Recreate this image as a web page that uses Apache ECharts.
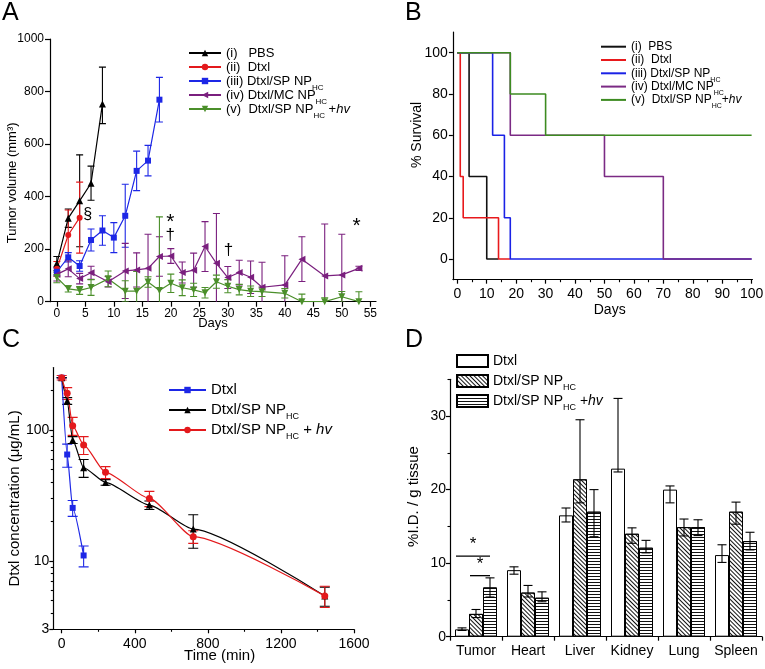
<!DOCTYPE html>
<html><head><meta charset="utf-8">
<script src="https://cdn.jsdelivr.net/npm/echarts@6/dist/echarts.min.js"></script>
<style>html,body{margin:0;padding:0;background:#fff}#c{width:765px;height:669px}</style>
</head><body><div id="c"></div>
<script>
// ---------- Panel A: tumor volume ----------
const daysPBS = [0, 2, 4, 6, 8];
const volPBS = [145, 318, 384, 451, 753];
const errPBS = [27, 35, 175, 65, [75, 140]];
const daysDtxl = [0, 2, 4];
const volDtxl = [125, 254, 320];
const errDtxl = [28, 95, 135];
const daysSP = [0, 2, 4, 6, 8, 10, 12, 14, 16, 18];
const volSP = [114, 169, 136, 235, 271, 244, 327, 498, 537, 769];
const errSP = [15, 18, 20, 42, 56, 57, 120, 75, 58, 85];
const daysLong = [0, 2, 4, 6, 9, 12, 14, 16, 18, 20, 22, 24, 26, 28, 30, 32, 34, 36, 40, 43, 47, 50, 53];
const volMC = [104, 125, 88, 110, 76, 117, 121, 127, 172, 174, 111, 120, 210, 146, 92, 111, 93, 55, 64, 162, 98, 102, 127];
const errMC = [25, 30, 20, 25, 20, 105, 65, 130, 75, 28, 40, 65, 95, 190, 42, 47, 62, 95, 111, 85, 198, 155, 8];
const volHv = [92, 49, 43, 54, 87, 40, 40, 75, 43, 70, 53, 45, 34, 76, 59, 46, 40, 38, 32, 0, 0, 19, 0];
const errHv = [20, 12, 15, 30, 30, 40, 75, 20, 280, 35, 30, 25, 20, 25, 25, 20, 20, 18, 18, 29, 15, 20, 38];
const annotA = [[5.4, 330], [19.9, 318], [19.9, 254], [30.1, 194], [52.6, 301]];
const annotTextA = ['§', '*', '†', '†', '*'];
const ticksA = [0, 5, 10, 15, 20, 25, 30, 35, 40, 45, 50, 55];

// ---------- Panel B: survival ----------
const survDaysPBS = [0, 4, 10, 14];
const survPBS = [100, 40, 0, 0];
const survDaysDtxl = [0, 1, 2, 14, 18];
const survDtxl = [100, 40, 20, 0, 0];
const survDaysSP = [0, 12, 16, 18, 100];
const survSP = [100, 60, 20, 0, 0];
const survDaysMC = [0, 18, 50, 70, 100];
const survMC = [100, 60, 40, 0, 0];
const survDaysHv = [0, 18, 30, 100];
const survHv = [100, 80, 60, 60];
const ticksBx = [0, 10, 20, 30, 40, 50, 60, 70, 80, 90, 100];
const minorBx = [5, 15, 25, 35, 45, 55, 65, 75, 85, 95];
const ticksBy = [0, 20, 40, 60, 80, 100];

// ---------- Panel C: pharmacokinetics ----------
const timeDtxl = [0, 30, 60, 120];
const concDtxl = [251, 65, 25.4, 11];
const errConcDtxl = [0, 13, 3.5, 2];
const timeC = [0, 30, 60, 120, 240, 480, 720, 1440];
const concSP = [251, 167, 84, 51.5, 39.8, 26.7, 17.5, 5.4];
const errConcSP = [0, 10, 5, 8, 2, 2, 5, 0.9];
const concHv = [251, 191, 108, 77, 47.5, 30, 15.3, 5.4];
const errConcHv = [10, 20, 17, 12, 5, 4, 1.7, 1];
const ticksCx = [0, 400, 800, 1200, 1600];
const minorCx = [200, 600, 1000, 1400];
const minorCy = [4, 5, 6, 7, 8, 9, 20, 30, 40, 50, 60, 70, 80, 90, 200];

// ---------- Panel D: biodistribution ----------
const organs = ['Tumor', 'Heart', 'Liver', 'Kidney', 'Lung', 'Spleen'];
const bioDtxl = [1.0, 9.05, 16.5, 22.85, 20.0, 11.1];
const bioDtxlLow = [0.85, 8.5, 15.6, 22.4, 18.2, 10.1];
const bioDtxlHigh = [1.2, 9.5, 17.5, 32.4, 20.5, 12.5];
const bioSP = [3.1, 6.0, 21.4, 14.0, 14.9, 17.0];
const bioSPLow = [2.6, 5.4, 18.2, 12.7, 13.7, 15.3];
const bioSPHigh = [3.7, 6.97, 29.5, 14.8, 16.0, 18.3];
const bioHv = [6.7, 5.3, 17.0, 12.1, 14.9, 13.0];
const bioHvLow = [5.4, 4.75, 13.6, 11.4, 13.75, 11.8];
const bioHvHigh = [8.0, 6.1, 20.0, 13.1, 15.9, 14.2];
const sigD = [[0, 10.95, 0, 2], [0, 8.3, 1, 2]];
const sigTextD = ['*', '*'];
const ticksDy = [0, 10, 20, 30];
const minorDy = [5, 15, 25, 35];

// ---------- styles ----------
const FONT = '"Liberation Sans", Arial, Helvetica, sans-serif';
const C = { black: '#000000', red: '#e3191c', blue: '#1d27e6', purple: '#7a1f7e', green: '#4b8f2a' };
const BAR_W = 14;

const legendLabels = {
  A1: '(i)   PBS', A2: '(ii)  Dtxl', A3: '(iii) Dtxl/SP NP{sub|HC}', A4: '(iv) Dtxl/MC NP{sub|HC}', A5: '(v)  Dtxl/SP NP{sub|HC} +{it|hv}',
  B1: '(i)  PBS', B2: '(ii)  Dtxl', B3: '(iii) Dtxl/SP NP{sub|HC}', B4: '(iv) Dtxl/MC NP{sub|HC}', B5: '(v)  Dtxl/SP NP{sub|HC}+{it|hv}',
  C1: 'Dtxl', C2: 'Dtxl/SP NP{sub|HC}', C3: 'Dtxl/SP NP{sub|HC} + {it|hv}',
  D1: 'Dtxl', D2: 'Dtxl/SP NP{sub|HC}', D3: 'Dtxl/SP NP{sub|HC} +{it|hv}'
};

function zip(xs, ys) { return xs.map((x, i) => [x, ys[i]]); }
function fmtNum(v) { return String(Math.round(v * 1000) / 1000); }

function mainAxis(o) {
  const a = {
    type: o.type || 'value', gridIndex: o.grid, position: o.position,
    min: o.min, max: o.max,
    splitLine: { show: false },
    axisLine: { show: true, onZero: false, lineStyle: { color: '#000', width: 1.2 } },
    axisTick: { show: true, length: o.tickLen || 4, lineStyle: { color: '#000', width: 1.2 } },
    axisLabel: { color: '#000', fontFamily: FONT, fontSize: o.labelSize, margin: o.labelMargin },
    name: o.name, nameLocation: 'middle', nameGap: o.nameGap, nameRotate: o.nameRotate || 0,
    nameMoveOverlap: false,
    nameTextStyle: { color: '#000', fontFamily: FONT, fontSize: o.nameSize, padding: o.namePadding || 0 }
  };
  if (a.type !== 'category') a.axisLabel.formatter = fmtNum;
  if (o.ticks) { a.axisTick.customValues = o.ticks; a.axisLabel.customValues = o.ticks; }
  if (o.extra) Object.assign(a.axisLabel, o.extra);
  return a;
}
function minorAxis(grid, position, min, max, vals) {
  return {
    type: 'value', gridIndex: grid, position: position, min: min, max: max,
    splitLine: { show: false }, axisLine: { show: false, onZero: false },
    axisLabel: { show: false },
    axisTick: { show: true, length: 2.5, customValues: vals, lineStyle: { color: '#000', width: 1.1 } }
  };
}

function errBars(xs, ys, errs, color, xi, yi, cap) {
  const data = xs.map((x, i) => {
    const e = Array.isArray(errs[i]) ? errs[i] : [errs[i], errs[i]];
    return [x, ys[i], ys[i] - e[0], ys[i] + e[1]];
  });
  return {
    type: 'custom', xAxisIndex: xi, yAxisIndex: yi, data: data, clip: true, z: 2, silent: true,
    renderItem: function (params, api) {
      const x = api.value(0);
      const a = api.coord([x, api.value(3)]);
      const b = api.coord([x, api.value(2)]);
      const st = { stroke: color, lineWidth: 1.1 };
      return { type: 'group', children: [
        { type: 'line', shape: { x1: a[0], y1: a[1], x2: b[0], y2: b[1] }, style: st },
        { type: 'line', shape: { x1: a[0] - cap, y1: a[1], x2: a[0] + cap, y2: a[1] }, style: st },
        { type: 'line', shape: { x1: b[0] - cap, y1: b[1], x2: b[0] + cap, y2: b[1] }, style: st }
      ] };
    }
  };
}
function barErr(vals, lows, highs, k) {
  const data = vals.map((v, i) => [i, v, lows[i], highs[i]]);
  return {
    type: 'custom', xAxisIndex: 5, yAxisIndex: 4, data: data, z: 5, silent: true,
    renderItem: function (params, api) {
      const a = api.coord([api.value(0), api.value(3)]);
      const b = api.coord([api.value(0), api.value(2)]);
      const x = a[0] + (k - 1) * BAR_W;
      const st = { stroke: '#000', lineWidth: 1.1 };
      return { type: 'group', children: [
        { type: 'line', shape: { x1: x, y1: a[1], x2: x, y2: b[1] }, style: st },
        { type: 'line', shape: { x1: x - 4.5, y1: a[1], x2: x + 4.5, y2: a[1] }, style: st },
        { type: 'line', shape: { x1: x - 4.5, y1: b[1], x2: x + 4.5, y2: b[1] }, style: st }
      ] };
    }
  };
}

function lineA(name, xs, ys, color, symbol, rot, size) {
  return {
    type: 'line', name: name, xAxisIndex: 0, yAxisIndex: 0, data: zip(xs, ys), z: 3,
    symbol: symbol, symbolRotate: rot, symbolSize: size,
    lineStyle: { color: color, width: 1.2 }, itemStyle: { color: color }
  };
}
function stepB(name, xs, ys, color) {
  return {
    type: 'line', name: name, xAxisIndex: 1, yAxisIndex: 1, data: zip(xs, ys), step: 'end',
    symbol: 'none', lineStyle: { color: color, width: 1.6 }, itemStyle: { color: color }
  };
}
function lineC(name, xs, ys, color, symbol, size) {
  return {
    type: 'line', name: name, xAxisIndex: 3, yAxisIndex: 2, data: zip(xs, ys), z: 3,
    symbol: symbol, symbolSize: size, smooth: 0.2, smoothMonotone: 'x',
    lineStyle: { color: color, width: 1.2 }, itemStyle: { color: color }
  };
}
const decalDiag = { symbol: 'rect', symbolSize: 1, color: '#111', dashArrayX: [1, 0], dashArrayY: [1, 2], rotation: Math.PI / 4 };
const decalHoriz = { symbol: 'rect', symbolSize: 1, color: '#111', dashArrayX: [1, 0], dashArrayY: [1, 2], rotation: 0 };
function barD(name, vals, decal) {
  const st = { color: '#fff', borderColor: '#000', borderWidth: 1 };
  if (decal) st.decal = decal;
  return { type: 'bar', name: name, xAxisIndex: 5, yAxisIndex: 4, data: vals, barWidth: BAR_W, barGap: '0%', itemStyle: st, z: 2 };
}

function legend(names, left, top, fs, lh, gap, iw, ih, icon) {
  return {
    orient: 'vertical', left: left, top: top, padding: 0, itemGap: gap, itemWidth: iw, itemHeight: ih,
    selectedMode: false, data: names.map(n => icon ? { name: n, icon: icon } : n),
    formatter: n => legendLabels[n],
    textStyle: {
      color: '#000', fontFamily: FONT, fontSize: fs, lineHeight: lh,
      rich: {
        sub: { color: '#000', fontFamily: FONT, fontSize: Math.round(fs * 0.62), verticalAlign: 'bottom', lineHeight: 3 },
        it: { color: '#000', fontFamily: FONT, fontSize: fs, fontStyle: 'italic' }
      }
    }
  };
}

const titleStyle = { fontSize: 25, fontWeight: 'normal', fontFamily: FONT, color: '#000' };

const option = {
  animation: false,
  backgroundColor: '#fff',
  title: [
    { text: 'A', left: 2, top: 1, padding: 0, textStyle: titleStyle },
    { text: 'B', left: 405, top: 1, padding: 0, textStyle: titleStyle },
    { text: 'C', left: 2, top: 328, padding: 0, textStyle: titleStyle },
    { text: 'D', left: 405, top: 328, padding: 0, textStyle: titleStyle }
  ],
  grid: [
    { left: 50, top: 39, width: 326, height: 262.7, containLabel: false, outerBoundsMode: 'none' },
    { left: 452.9, top: 32.1, width: 299.6, height: 247.6, containLabel: false, outerBoundsMode: 'none' },
    { left: 53.3, top: 367.6, width: 300.7, height: 261.7, containLabel: false, outerBoundsMode: 'none' },
    { left: 450, top: 379.3, width: 312, height: 257.4, containLabel: false, outerBoundsMode: 'none' }
  ],
  legend: [
    legend(['A1', 'A2', 'A3', 'A4', 'A5'], 188, 42, 13, 22, -8, 32, 8),
    legend(['B1', 'B2', 'B3', 'B4', 'B5'], 601, 36.7, 12, 20, -6.7, 25, 2, 'rect'),
    legend(['C1', 'C2', 'C3'], 168, 379, 15, 22, -2, 37, 8),
    legend(['D1', 'D2', 'D3'], 456, 350, 14, 22, -2, 31, 12, 'rect')
  ],
  xAxis: [
    mainAxis({ grid: 0, position: 'bottom', min: -1.2, max: 56, ticks: ticksA, labelSize: 12, labelMargin: 6, tickLen: 5,
      name: 'Days', nameGap: 15, nameSize: 13 }),
    mainAxis({ grid: 1, position: 'bottom', min: -1.5, max: 100.3, ticks: ticksBx, labelSize: 14, labelMargin: 7, tickLen: 4,
      name: 'Days', nameGap: 23, nameSize: 14, namePadding: [0, 0, 0, 14] }),
    minorAxis(1, 'bottom', -1.5, 100.3, minorBx),
    mainAxis({ grid: 2, position: 'bottom', min: -46, max: 1600, ticks: ticksCx, labelSize: 14, labelMargin: 7.5, tickLen: 4,
      name: 'Time (min)', nameGap: 19, nameSize: 15, namePadding: [0, 0, 0, 32] }),
    minorAxis(2, 'bottom', -46, 1600, minorCx),
    Object.assign(mainAxis({ type: 'category', grid: 3, position: 'bottom', labelSize: 14, labelMargin: 7, tickLen: 4 }),
      { data: organs, boundaryGap: true })
  ],
  yAxis: [
    mainAxis({ grid: 0, position: 'left', min: 0, max: 1000, labelSize: 12, labelMargin: 6, tickLen: 5,
      name: 'Tumor volume (mm³)', nameGap: 31, nameSize: 13, nameRotate: 90, namePadding: [0, 25, 0, 0] }),
    mainAxis({ grid: 1, position: 'left', min: -10, max: 110, ticks: ticksBy, labelSize: 14, labelMargin: 5, tickLen: 4,
      name: '% Survival', nameGap: 29, nameSize: 14, nameRotate: 90, namePadding: [0, 0, 0, 42] }),
    mainAxis({ type: 'log', grid: 2, position: 'left', min: 3, max: 300, labelSize: 14, labelMargin: 4, tickLen: 4,
      name: 'Dtxl concentration (μg/mL)', nameGap: 31, nameSize: 15, nameRotate: 90, extra: { showMaxLabel: false } }),
    minorAxis(2, 'left', Math.log10(3), Math.log10(300), minorCy.map(v => Math.log10(v))),
    mainAxis({ grid: 3, position: 'left', min: 0, max: 35, ticks: ticksDy, labelSize: 14, labelMargin: 4, tickLen: 4,
      name: '%I.D. / g tissue', nameGap: 28.5, nameSize: 15, nameRotate: 90, namePadding: [0, 0, 0, 23] }),
    minorAxis(3, 'left', 0, 35, minorDy)
  ],
  series: [
    // Panel A
    errBars(daysPBS, volPBS, errPBS, C.black, 0, 0, 3.5),
    errBars(daysDtxl, volDtxl, errDtxl, C.red, 0, 0, 3.5),
    errBars(daysSP, volSP, errSP, C.blue, 0, 0, 3.5),
    errBars(daysLong, volMC, errMC, C.purple, 0, 0, 3.5),
    errBars(daysLong, volHv, errHv, C.green, 0, 0, 3.5),
    lineA('A1', daysPBS, volPBS, C.black, 'triangle', 0, 7),
    lineA('A2', daysDtxl, volDtxl, C.red, 'circle', 0, 6),
    lineA('A3', daysSP, volSP, C.blue, 'rect', 0, 6),
    lineA('A4', daysLong, volMC, C.purple, 'triangle', 90, 7),
    lineA('A5', daysLong, volHv, C.green, 'triangle', 180, 7),
    {
      type: 'custom', xAxisIndex: 0, yAxisIndex: 0, data: annotA, z: 6, silent: true,
      renderItem: function (params, api) {
        const p = api.coord([api.value(0), api.value(1)]);
        const t = annotTextA[params.dataIndex];
        const fs = t === '*' ? 21 : (t === '§' ? 16 : 17);
        return { type: 'text', x: p[0], y: p[1] + (t === '*' ? 4 : 0),
          style: { text: t, fill: '#000', fontSize: fs, fontFamily: FONT, align: 'center', verticalAlign: 'middle' } };
      }
    },
    // Panel B
    stepB('B1', survDaysPBS, survPBS, '#111'),
    stepB('B2', survDaysDtxl, survDtxl, '#e8191c'),
    stepB('B3', survDaysSP, survSP, '#1a22e6'),
    stepB('B4', survDaysMC, survMC, '#7b2a84'),
    stepB('B5', survDaysHv, survHv, '#3d8b21'),
    // Panel C
    errBars(timeDtxl, concDtxl, errConcDtxl, C.blue, 3, 2, 5),
    errBars(timeC, concSP, errConcSP, C.black, 3, 2, 5),
    errBars(timeC, concHv, errConcHv, C.red, 3, 2, 5),
    lineC('C1', timeDtxl, concDtxl, C.blue, 'rect', 6),
    lineC('C2', timeC, concSP, C.black, 'triangle', 7),
    lineC('C3', timeC, concHv, C.red, 'circle', 7),
    // Panel D
    barD('D1', bioDtxl, null),
    barD('D2', bioSP, decalDiag),
    barD('D3', bioHv, decalHoriz),
    barErr(bioDtxl, bioDtxlLow, bioDtxlHigh, 0),
    barErr(bioSP, bioSPLow, bioSPHigh, 1),
    barErr(bioHv, bioHvLow, bioHvHigh, 2),
    {
      type: 'custom', xAxisIndex: 5, yAxisIndex: 4, data: sigD, z: 6, silent: true,
      renderItem: function (params, api) {
        const p = api.coord([api.value(0), api.value(1)]);
        const x0 = p[0] + (api.value(2) - 1) * BAR_W - BAR_W / 2 + 1;
        const x1 = p[0] + (api.value(3) - 1) * BAR_W;
        return { type: 'group', children: [
          { type: 'line', shape: { x1: x0, y1: p[1], x2: x1, y2: p[1] }, style: { stroke: '#000', lineWidth: 1.3 } },
          { type: 'text', x: (x0 + x1) / 2, y: p[1] - 3,
            style: { text: sigTextD[params.dataIndex], fill: '#000', fontSize: 17, fontFamily: FONT, align: 'center', verticalAlign: 'bottom' } }
        ] };
      }
    }
  ]
};
option.xAxis[5].axisLabel.interval = 0;

const chart = echarts.init(document.getElementById('c'), null, { renderer: 'canvas' });
chart.setOption(option);
</script>
</body></html>
